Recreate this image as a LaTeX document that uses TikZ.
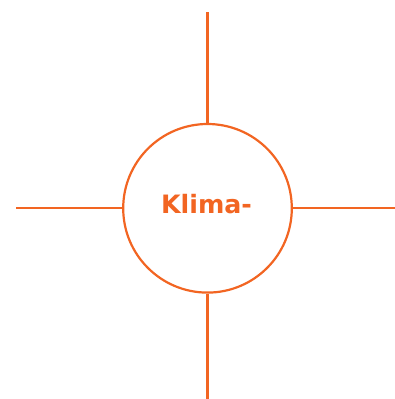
\documentclass[tikz,border=0pt]{standalone}
\usepackage{fontspec}
\setmainfont{DejaVu Sans}
\definecolor{kor}{HTML}{F26522}
\begin{document}
\begin{tikzpicture}[x=1pt,y=-1pt,
  ln/.style={draw=kor,line width=2.2pt},
  lbl/.style={text=kor,font=\fontsize{25.3}{28}\selectfont\bfseries,inner sep=0pt,anchor=base}]
\useasboundingbox (0,0) rectangle (395,399);
\node[circle,ln,minimum size=168.6pt,inner sep=0pt] (c) at (207.5,208.3) {};
\node[lbl] (t) at (206.5,213) {Klima-};
\coordinate (top) at (207.5,12);
\coordinate (bot) at (207.5,399);
\coordinate (lft) at (16,208.3);
\coordinate (rgt) at (395,208.3);
\draw[ln] (c.north) -- (top);
\draw[ln] (c.south) -- (bot);
\draw[ln] (c.west) -- (lft);
\draw[ln] (c.east) -- (rgt);
\end{tikzpicture}
\end{document}
